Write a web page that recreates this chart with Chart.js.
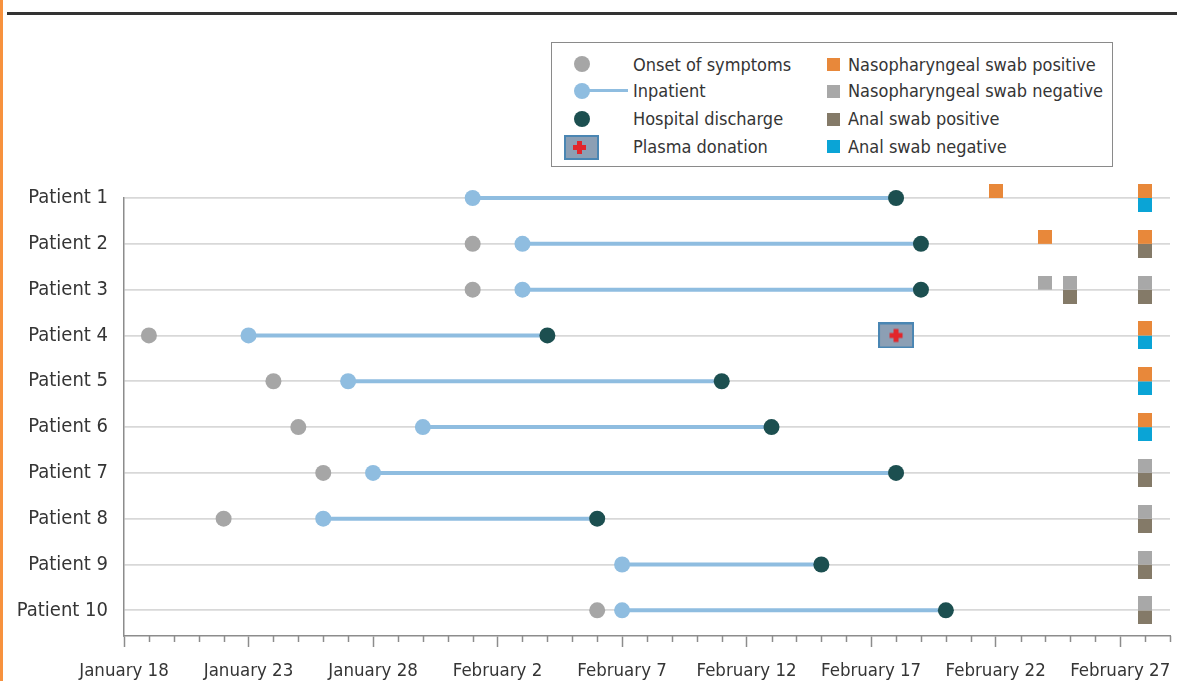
<!DOCTYPE html>
<html>
<head>
<meta charset="utf-8">
<script src="https://cdn.jsdelivr.net/npm/chart.js@4.4.1/dist/chart.umd.min.js"></script>
<style>
  body { margin: 0; background: #fff; }
  #wrap { position: relative; width: 1183px; height: 681px; overflow: hidden;
          font-family: 'DejaVu Sans Condensed', 'Liberation Sans Narrow', 'DejaVu Sans', sans-serif; color: #353535; }
  #edge { position: absolute; left: 0; top: 0; width: 3px; height: 681px; background: #f7923e; }
  #rule { position: absolute; left: 7px; top: 12px; width: 1170px; height: 3px; background: #333; }
  #legend { position: absolute; left: 551px; top: 42px; width: 560px; height: 123px;
            border: 1.5px solid #8a8a8a; background: #fff; font-size: 18px; }
  #legend .t { position: absolute; line-height: 20px; white-space: nowrap; }
  #legend .dot { position: absolute; width: 16px; height: 16px; border-radius: 50%; }
  #legend .sq { position: absolute; width: 13px; height: 13px; }
  #chartBox { position: absolute; left: 0; top: 0; width: 1183px; height: 681px; }
</style>
</head>
<body>
<div id="wrap">
  <div id="chartBox"><canvas id="timeline"></canvas></div>
  <div id="edge"></div>
  <div id="rule"></div>
  <div id="legend">
    <div class="dot" style="left:22px; top:13px; background:#a6a6a6"></div>
    <div class="t" style="left:81px; top:12px">Onset of symptoms</div>
    <div style="position:absolute; left:28px; top:46px; width:48px; height:3px; background:#8fbde0"></div>
    <div class="dot" style="left:22px; top:40px; background:#8fbde0"></div>
    <div class="t" style="left:81px; top:38px">Inpatient</div>
    <div class="dot" style="left:22px; top:68px; background:#1c4f50"></div>
    <div class="t" style="left:81px; top:66px">Hospital discharge</div>
    <div style="position:absolute; left:12px; top:92px; width:31px; height:21px; background:#8c9fb4; border:2px solid #4a86b3"></div>
    <div style="position:absolute; left:25px; top:98px; width:5px; height:13px; background:#e2262b"></div>
    <div style="position:absolute; left:21px; top:102px; width:13px; height:5px; background:#e2262b"></div>
    <div class="t" style="left:81px; top:94px">Plasma donation</div>
    <div class="sq" style="left:275px; top:15px; background:#e8883a"></div>
    <div class="t" style="left:296px; top:12px">Nasopharyngeal swab positive</div>
    <div class="sq" style="left:275px; top:42px; background:#a8a8a8"></div>
    <div class="t" style="left:296px; top:38px">Nasopharyngeal swab negative</div>
    <div class="sq" style="left:275px; top:70px; background:#847a68"></div>
    <div class="t" style="left:296px; top:66px">Anal swab positive</div>
    <div class="sq" style="left:275px; top:97px; background:#0aa4d6"></div>
    <div class="t" style="left:296px; top:94px">Anal swab negative</div>
  </div>
</div>
<script>
// dates are month-day in 2020
const patients = ['Patient 1', 'Patient 2', 'Patient 3', 'Patient 4', 'Patient 5',
                  'Patient 6', 'Patient 7', 'Patient 8', 'Patient 9', 'Patient 10'];
const onsetDates = [null, '02-01', '02-01', '01-19', '01-24', '01-25', '01-26', '01-22', null, '02-06'];
const admissionDates = ['02-01', '02-03', '02-03', '01-23', '01-27', '01-30', '01-28', '01-26', '02-07', '02-07'];
const dischargeDates = ['02-18', '02-19', '02-19', '02-04', '02-11', '02-13', '02-18', '02-06', '02-15', '02-20'];
const plasmaDates = [[], [], [], ['02-18'], [], [], [], [], [], []];
const nasoPositive = [['02-22', '02-28'], ['02-24', '02-28'], [], ['02-28'], ['02-28'], ['02-28'], [], [], [], []];
const nasoNegative = [[], [], ['02-24', '02-25', '02-28'], [], [], [], ['02-28'], ['02-28'], ['02-28'], ['02-28']];
const analPositive = [[], ['02-28'], ['02-25', '02-28'], [], [], [], ['02-28'], ['02-28'], ['02-28'], ['02-28']];
const analNegative = [['02-28'], [], [], ['02-28'], ['02-28'], ['02-28'], [], [], [], []];
const xTickDates = ['01-18', '01-23', '01-28', '02-02', '02-07', '02-12', '02-17', '02-22', '02-27'];
const xTickLabels = ['January 18', 'January 23', 'January 28', 'February 2', 'February 7',
                     'February 12', 'February 17', 'February 22', 'February 27'];
const axisEnd = '02-29';

const FONT = "'DejaVu Sans Condensed', 'Liberation Sans Narrow', 'DejaVu Sans', sans-serif";
const START = Date.UTC(2020, 0, 18);
function day(md) {
  const [m, d] = md.split('-').map(Number);
  return (Date.UTC(2020, m - 1, d) - START) / 864e5;
}
const majorDays = xTickDates.map(day);
const lastDay = day(axisEnd);

function points(dates) {
  const out = [];
  dates.forEach((d, i) => {
    if (d === null) return;
    (Array.isArray(d) ? d : [d]).forEach(v => out.push({ x: day(v), y: i + 1 }));
  });
  return out;
}

// half-height swab squares: naso on top of the line, anal below it
function swabIcon(color, top) {
  const c = document.createElement('canvas');
  c.width = 14; c.height = 28;
  const g = c.getContext('2d');
  g.fillStyle = color;
  g.fillRect(0, top ? 0 : 14, 14, 14);
  return c;
}
function plasmaIcon() {
  const c = document.createElement('canvas');
  c.width = 36; c.height = 26;
  const g = c.getContext('2d');
  g.fillStyle = '#4a86b3';
  g.fillRect(0, 0, 36, 26);
  g.fillStyle = '#8c9fb4';
  g.fillRect(2, 2, 32, 22);
  g.fillStyle = '#e2262b';
  g.fillRect(15.5, 6.5, 5, 13);
  g.fillRect(11.5, 10.5, 13, 5);
  return c;
}

const datasets = [];
patients.forEach((p, i) => {
  datasets.push({
    type: 'line', showLine: true, order: 5, clip: false,
    data: [{ x: day(admissionDates[i]), y: i + 1 }, { x: day(dischargeDates[i]), y: i + 1 }],
    borderColor: '#8fbde0', borderWidth: 4, pointRadius: 0
  });
});
const dot = (label, data, color) => ({
  label, data, clip: false, pointRadius: 8, pointBorderWidth: 0,
  pointBackgroundColor: color, pointBorderColor: color
});
datasets.push(dot('Onset of symptoms', points(onsetDates), '#a6a6a6'));
datasets.push(dot('Inpatient', points(admissionDates), '#8fbde0'));
datasets.push(dot('Hospital discharge', points(dischargeDates), '#1c4f50'));
const icon = (label, data, style) => ({ label, data, clip: false, pointRadius: 7, pointStyle: style });
datasets.push(icon('Nasopharyngeal swab positive', points(nasoPositive), swabIcon('#e8883a', true)));
datasets.push(icon('Nasopharyngeal swab negative', points(nasoNegative), swabIcon('#a8a8a8', true)));
datasets.push(icon('Anal swab positive', points(analPositive), swabIcon('#847a68', false)));
datasets.push(icon('Anal swab negative', points(analNegative), swabIcon('#0aa4d6', false)));
datasets.push(icon('Plasma donation', points(plasmaDates), plasmaIcon()));

const minorTicks = {
  id: 'minorTicks',
  afterDraw(chart) {
    const x = chart.scales.x, g = chart.ctx, y0 = chart.chartArea.bottom;
    g.save();
    g.strokeStyle = '#8c8c8c';
    g.lineWidth = 1.5;
    for (let v = 0; v <= lastDay; v++) {
      if (majorDays.includes(v)) continue;
      const px = Math.round(x.getPixelForValue(v)) + 0.5;
      g.beginPath(); g.moveTo(px, y0); g.lineTo(px, y0 + 6); g.stroke();
    }
    g.restore();
  }
};

new Chart(document.getElementById('timeline'), {
  type: 'scatter',
  data: { datasets },
  plugins: [minorTicks],
  options: {
    responsive: true,
    maintainAspectRatio: false,
    animation: false,
    events: [],
    layout: { padding: { top: 198, right: 13, left: 0, bottom: 0 } },
    plugins: { legend: { display: false }, tooltip: { enabled: false } },
    scales: {
      x: {
        type: 'linear', min: 0, max: lastDay,
        afterBuildTicks(scale) {
          const t = [];
          for (let v = 0; v <= lastDay; v++) t.push({ value: v });
          scale.ticks = t;
        },
        afterFit(scale) { scale.height = 45; },
        ticks: {
          autoSkip: false, maxRotation: 0, padding: 13,
          color: '#353535', font: { family: FONT, size: 18.5 },
          callback: v => { const k = majorDays.indexOf(v); return k >= 0 ? xTickLabels[k] : ''; }
        },
        grid: {
          drawOnChartArea: false, tickLength: 11, tickWidth: 1.5,
          tickColor: c => majorDays.includes(c.tick && c.tick.value) ? '#8c8c8c' : 'rgba(0,0,0,0)'
        },
        border: { color: '#8c8c8c', width: 1.5 }
      },
      y: {
        type: 'linear', reverse: true, min: 1, max: 10.56,
        afterBuildTicks(scale) { scale.ticks = patients.map((p, i) => ({ value: i + 1 })); },
        afterFit(scale) { scale.width = 124; },
        ticks: {
          padding: 16, color: '#353535', font: { family: FONT, size: 20 },
          callback: v => patients[v - 1] || ''
        },
        grid: { color: '#d8d8d8', lineWidth: 1.8, drawTicks: false },
        border: { color: '#8c8c8c', width: 1.5 }
      }
    }
  }
});
</script>
</body>
</html>
